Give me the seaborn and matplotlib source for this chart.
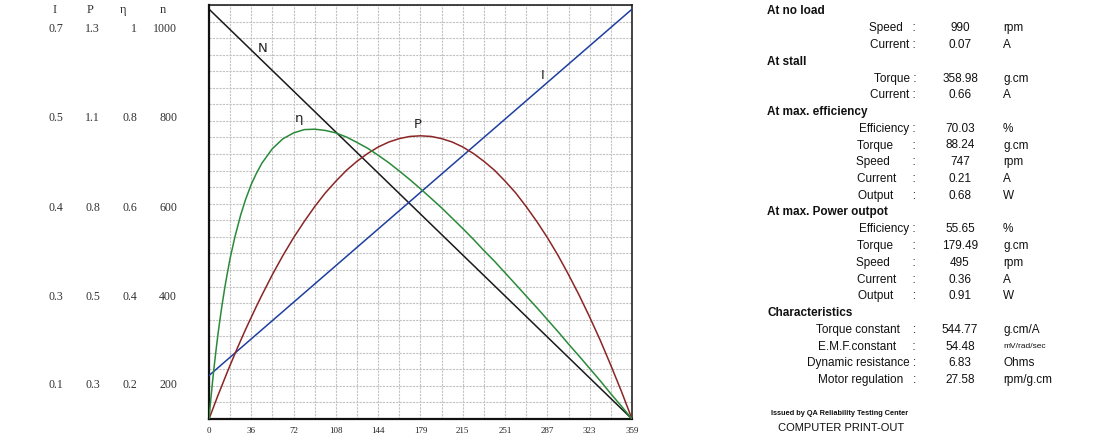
"""motor performance curve with spec sheet"""
import matplotlib.pyplot as plt
import seaborn as sns

# straight lines: speed and current vs torque (g.cm)
torque_ends = [0, 358.98]
speed_ends = [990, 0]
current_ends = [0.07, 0.66]

# curves
torque_curve = [0, 1, 2, 3, 4.5, 6, 7.5, 9, 11, 13.5, 15.5, 17.9, 22, 26.9, 31,
                35.9, 40, 44.9, 53.8, 62.8, 71.8, 80.8, 89.7, 98.7, 107.7, 116.7,
                125.6, 134.6, 143.6, 152.6, 161.5, 170.5, 179.5, 188.5, 197.4,
                206.4, 215.4, 224.4, 233.3, 242.3, 251.3, 260.3, 269.2, 278.2,
                287.2, 296.2, 305.1, 314.1, 323.1, 332.1, 341.0, 350.0, 358.98]
efficiency = [0, .032, .061, .090, .130, .167, .202, .234, .274, .319, .351, .388,
              .440, .493, .530, .567, .592, .618, .653, .677, .691, .699, .700,
              .697, .691, .681, .668, .654, .637, .619, .599, .578, .556, .533,
              .510, .485, .460, .434, .407, .381, .353, .325, .297, .269, .240,
              .211, .181, .152, .122, .092, .061, .031, 0]
power = [0, .010, .020, .030, .045, .060, .075, .089, .108, .132, .151, .173, .210,
         .253, .288, .328, .361, .399, .465, .527, .584, .636, .684, .728, .766,
         .801, .830, .855, .876, .892, .903, .910, .912, .910, .903, .892, .876,
         .855, .830, .801, .766, .728, .684, .636, .584, .527, .465, .399, .328,
         .253, .173, .089, 0]

x_tick_labels = ["0", "36", "72", "108", "144", "179", "215", "251", "287", "323", "359"]

# left scale columns
scale_heads = ["I", "P", "η", "n"]
scale_I = [0.7, 0.5, 0.4, 0.3, 0.1]
scale_P = [1.3, 1.1, 0.8, 0.5, 0.3]
scale_eta = [1, 0.8, 0.6, 0.4, 0.2]
scale_n = [1000, 800, 600, 400, 200]

# spec sheet
spec_labels = ["At no load", "Speed   :", "Current :",
               "At stall", "Torque :", "Current :",
               "At max. efficiency", "Efficiency :", "Torque      :", "Speed       :",
               "Current     :", "Output      :",
               "At max. Power outpot", "Efficiency :", "Torque      :", "Speed       :",
               "Current     :", "Output      :",
               "Characteristics", "Torque constant    :", "E.M.F.constant     :",
               "Dynamic resistance :", "Motor regulation   :"]
spec_values = ["", "990", "0.07", "", "358.98", "0.66", "", "70.03", "88.24", "747",
               "0.21", "0.68", "", "55.65", "179.49", "495", "0.36", "0.91", "",
               "544.77", "54.48", "6.83", "27.58"]
spec_units = ["", "rpm", "A", "", "g.cm", "A", "", "%", "g.cm", "rpm", "A", "W", "",
              "%", "g.cm", "rpm", "A", "W", "", "g.cm/A", "mV/rad/sec", "Ohms", "rpm/g.cm"]

W, H = 1100, 440

sns.set_theme(style="white")
plt.rcParams["font.family"] = ["Liberation Sans", "DejaVu Sans"]

fig = plt.figure(figsize=(W / 100, H / 100), dpi=100)
ax = fig.add_axes([209 / W, 1 - 419 / H, 423 / W, 414 / H])

# speed axis carries the grid
ax.set_xlim(0, 358.98)
ax.set_ylim(0, 1000)
step = 358.98 / 20
ax.set_xticks([step * k for k in range(0, 21, 2)], x_tick_labels)
ax.set_xticks([step * k for k in range(1, 21, 2)], minor=True)
ax.set_yticks(range(0, 1001, 40))
ax.set_yticklabels([])
ax.tick_params(axis="both", which="both", length=0)
ax.tick_params(axis="x", pad=6)
for lab in ax.get_xticklabels():
    lab.set_fontfamily("Liberation Serif")
    lab.set_fontsize(6.5)
    lab.set_color("#222222")
ax.grid(True, which="both", color="#c2c2c2", linestyle=(0, (2, 1)), linewidth=0.8)
for side, sp in ax.spines.items():
    sp.set_color("#111111")
    sp.set_linewidth(1.6 if side in ("left", "bottom") else 1.1)

sns.lineplot(x=torque_ends, y=speed_ends, ax=ax, color="#1a1a1a", linewidth=1.1)


def overlay(top):
    tw = ax.twinx()
    tw.set_ylim(0, top)
    tw.set_axis_off()
    return tw


ax_i = overlay(0.6667)
sns.lineplot(x=torque_ends, y=current_ends, ax=ax_i, color="#1f3f9f", linewidth=1.1)
ax_p = overlay(1.3333)
sns.lineplot(x=torque_curve, y=power, ax=ax_p, color="#8b2525", linewidth=1.1)
ax_e = overlay(1.0)
sns.lineplot(x=torque_curve, y=efficiency, ax=ax_e, color="#2a8a3a", linewidth=1.1)

# curve names
for name, fx, fy in [("N", 0.126, 0.896), ("η", 0.213, 0.725),
                     ("P", 0.493, 0.712), ("I", 0.789, 0.829)]:
    ax.text(fx, fy, name, transform=ax.transAxes, ha="center", va="center",
            fontsize=9.5, color="#222222", family=["DejaVu Sans"])

# left scale labels
serif = ["Liberation Serif", "DejaVu Serif"]
head_x = [55, 90, 123, 163]
for name, hx in zip(scale_heads, head_x):
    fig.text(hx / W, 1 - 10 / H, name, ha="center", va="center", fontsize=9,
             family=serif, color="#333333")
col_right = [63, 100, 137, 177]
row_y = [29, 118, 208, 297, 385]
for col, cx in zip([scale_I, scale_P, scale_eta, scale_n], col_right):
    for v, ry in zip(col, row_y):
        fig.text(cx / W, 1 - ry / H, f"{v:g}", ha="right", va="center",
                 fontsize=8.6, family=serif, color="#333333")

# spec sheet on the right
y0, dy = 11.5, 16.75
for i, (lab, val, unit) in enumerate(zip(spec_labels, spec_values, spec_units)):
    y = 1 - (y0 + i * dy) / H
    if val == "":
        fig.text(767 / W, y, lab, ha="left", va="center", fontsize=8.5,
                 fontweight="bold", color="#111111")
        continue
    fig.text(916 / W, y, lab, ha="right", va="center", fontsize=8.5, color="#111111")
    fig.text(960 / W, y, val, ha="center", va="center", fontsize=8.5, color="#111111")
    fig.text(1003 / W, y, unit, ha="left", va="center",
             fontsize=6 if unit == "mV/rad/sec" else 8.5, color="#111111")

fig.text(771 / W, 1 - 413 / H, "Issued by QA Reliability Testing Center", ha="left",
         va="center", fontsize=5.3, fontweight="bold", color="#111111")
fig.text(778 / W, 1 - 428 / H, "COMPUTER PRINT-OUT", ha="left", va="center",
         fontsize=8, color="#111111")

fig.savefig("out.png", dpi=100, facecolor="white")
